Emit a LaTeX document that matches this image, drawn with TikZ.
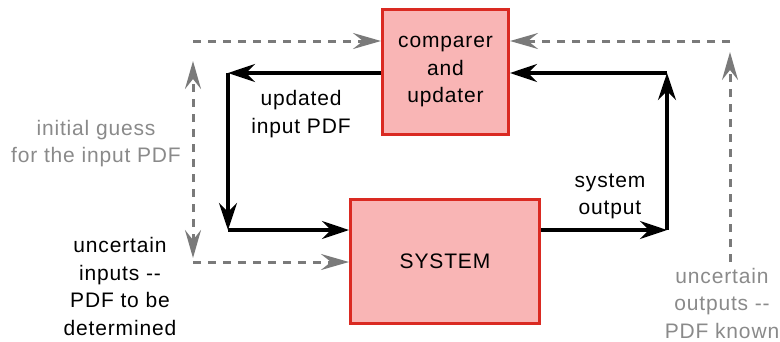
\documentclass[tikz,border=0pt]{standalone}
\usepackage{fontspec}
\setmainfont{Liberation Sans}[LetterSpace=4]
\usetikzlibrary{arrows.meta}
\definecolor{boxred}{HTML}{DA2A22}
\definecolor{boxfill}{HTML}{F9B5B5}
\definecolor{guessgray}{HTML}{7A7A7A}
\definecolor{textgray}{HTML}{8A8A8A}
\begin{document}
\begin{tikzpicture}[x=1pt,y=-1pt,
  box/.style={draw=boxred, fill=boxfill, line width=3pt, align=center,
    font=\fontsize{21}{27.5}\selectfont, inner sep=0pt},
  flow/.style={line width=3.2pt, -{Stealth[length=27pt,width=18pt,inset=9pt]}},
  gtip/.tip={Stealth[length=28pt,width=16pt,inset=10pt]},
  guess/.style={draw=guessgray, line width=3pt, dash pattern=on 8pt off 7pt, -gtip},
  guessboth/.style={guess, gtip-gtip},
  lbl/.style={font=\fontsize{21}{27.5}\selectfont, align=center, inner sep=0pt},
  glbl/.style={lbl, text=textgray}
]
\useasboundingbox (0,0) rectangle (780,341);

\node[box, minimum width=126pt, minimum height=125pt] (cu) at (445.5,72) {comparer\\and\\updater};
\node[box, minimum width=189pt, minimum height=124pt] (sys) at (445,261.5) {SYSTEM};

% black loop
\coordinate (c1) at (228,73);
\coordinate (c2) at (228,230);
\coordinate (c3) at (667,230);
\coordinate (c4) at (667,73);
\draw[flow] (cu.west |- c1) -- (c1);
\draw[flow] (c1) -- (c2);
\draw[flow] (c2) -- (sys.west |- c2);
\draw[flow] (sys.east |- c3) -- (c3);
\draw[flow] (c3) -- (c4);
\draw[flow] (c4) -- (cu.east |- c4);

% gray dashed
\coordinate (g1) at (193,41);
\coordinate (g2) at (193,262);
\coordinate (gu) at (193,61);
\coordinate (gd) at (193,258);
\coordinate (g3) at (730,41);
\coordinate (g4) at (730,262);
\coordinate (gr) at (730,52);
\draw[guessboth] (gd) -- (gu);
\draw[guess] (g1) -- (cu.west |- g1);
\draw[guess] (g2) -- (sys.west |- g2);
\draw[guess] (g4) -- (gr);
\draw[guess] (g3) -- (cu.east |- g3);

% labels
\node[lbl] (upd) at (301,114) {updated\\input PDF};
\node[glbl] (ig) at (96,143.5) {initial guess\\for the input PDF};
\node[lbl] (ui) at (120,286.5) {uncertain\\inputs {-}{-}\\PDF to be\\determined};
\node[lbl] (so) at (610,196.5) {system\\output};
\node[glbl] (uo) at (722,303) {uncertain\\outputs {-}{-}\\PDF known};
\end{tikzpicture}
\end{document}
